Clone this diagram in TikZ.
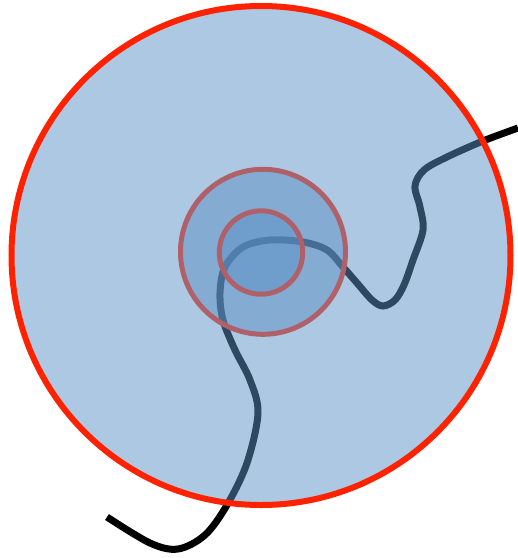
\documentclass[tikz,border=0pt]{standalone}
\begin{document}
\begin{tikzpicture}[x=1pt,y=-1pt]
\definecolor{discfill}{RGB}{92,145,197}
\definecolor{outerred}{RGB}{255,34,0}
\definecolor{innerpink}{RGB}{176,96,104}
\tikzset{
  wire/.style={line width=7pt, black},
  disc/.style={fill=discfill, fill opacity=0.5},
  outerring/.style={draw=outerred, line width=6pt},
  innerring/.style={draw=innerpink, line width=5pt},
}
\useasboundingbox (0,0) rectangle (518,558);
\draw[wire] plot[smooth, tension=0.55] coordinates {
  (107,517) (150,543) (178,549) (205,535) (227,505) (247,463) (258,413)
  (250,380) (235,350) (223,320) (220,293) (225,267) (243,247) (270,240)
  (303,242) (327,250) (343,267) (357,283) (372,300) (383,306) (395,300)
  (404,285) (413,260) (423,230) (420,207) (415,186) (424,170) (447,157)
  (483,141) (518,128)};
\path[disc, outerring] (261,255.5) circle (249.5);
\path[disc, innerring] (263,251.8) circle (82.5);
\path[disc, innerring] (261,252.5) circle (41.7);
\end{tikzpicture}
\end{document}
